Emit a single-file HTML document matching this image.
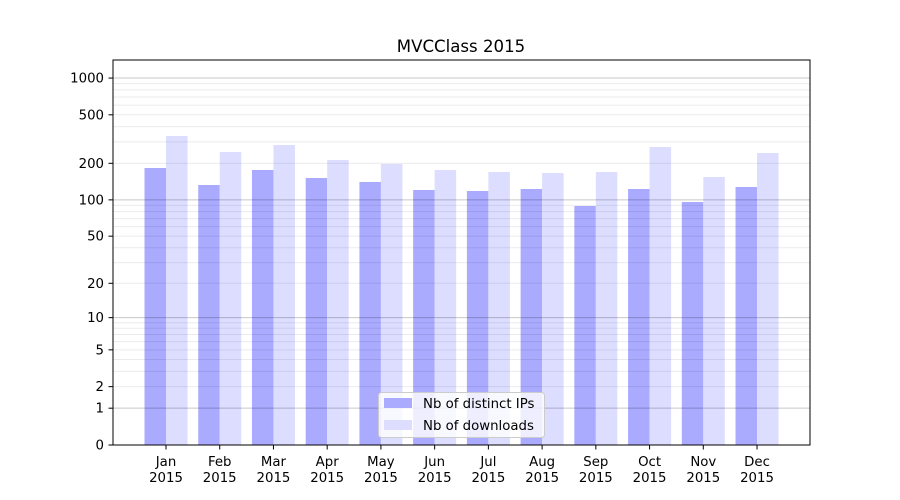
<!DOCTYPE html>
<html><head><meta charset="utf-8"><style>body{margin:0;background:#fff}svg{display:block;font-family:"DejaVu Sans","Liberation Sans",sans-serif}</style></head>
<body>
<svg id="s" width="900" height="500" xmlns="http://www.w3.org/2000/svg">
<rect width="900" height="500" fill="#fff"/>
<text x="461" y="52" font-size="16.6" text-anchor="middle">MVCClass 2015</text>
<g id="bars"></g>
<g id="grid"></g>
<rect x="113" y="60" width="697" height="385" fill="none" stroke="#000" stroke-width="1"/>
<g id="ax" font-size="13.3"></g>
<g>
<rect x="378.5" y="392.5" width="166" height="45" rx="3" fill="#fff" fill-opacity="0.8" stroke="#ccc"/>
<rect x="384" y="398" width="28" height="10" fill="#aaaaff"/>
<rect x="384" y="420" width="28" height="10" fill="#ddddff"/>
<text x="423" y="408" font-size="13.3">Nb of distinct IPs</text>
<text x="423" y="430" font-size="13.3">Nb of downloads</text>
</g>
</svg>
<script>
var ns="http://www.w3.org/2000/svg";
function el(p,t,a,txt){var e=document.createElementNS(ns,t);for(var k in a)e.setAttribute(k,a[k]);if(txt!==undefined)e.textContent=txt;document.getElementById(p).appendChild(e);}
function Y(v){return 445-122.3*Math.log10(1+v);}
var ip=[168,185,170,178,182,190,191,189,206,189,202,187];
var dl=[136,152,145,160,164,170,172,173,172,147,177,153];
var m=["Jan","Feb","Mar","Apr","May","Jun","Jul","Aug","Sep","Oct","Nov","Dec"];
for(var i=0;i<12;i++){var c=166+i*53.73;
el("bars","rect",{x:c-21.5,y:ip[i],width:21.5,height:445-ip[i],fill:"#aaaaff"});
el("bars","rect",{x:c,y:dl[i],width:21.5,height:445-dl[i],fill:"#ddddff"});
el("ax","line",{x1:c,x2:c,y1:445,y2:449.5,stroke:"#000"});
el("ax","text",{x:c,y:466,"text-anchor":"middle"},m[i]);
el("ax","text",{x:c,y:482,"text-anchor":"middle"},"2015");}
for(var d=1;d<=1000;d*=10){for(var k=2;k<=9;k++){var y=Y(d*k);if(y>60)el("grid","line",{x1:113,x2:810,y1:y,y2:y,stroke:"#000","stroke-opacity":0.08});}}
[1,10,100,1000].forEach(function(v){var y=Y(v);el("grid","line",{x1:113,x2:810,y1:y,y2:y,stroke:"#000","stroke-opacity":0.22});});
[0,1,2,5,10,20,50,100,200,500,1000].forEach(function(v){var y=Y(v);
el("ax","line",{x1:108.5,x2:113,y1:y,y2:y,stroke:"#000"});
el("ax","text",{x:104,y:y+4.5,"text-anchor":"end"},String(v));});
</script>
</body></html>
